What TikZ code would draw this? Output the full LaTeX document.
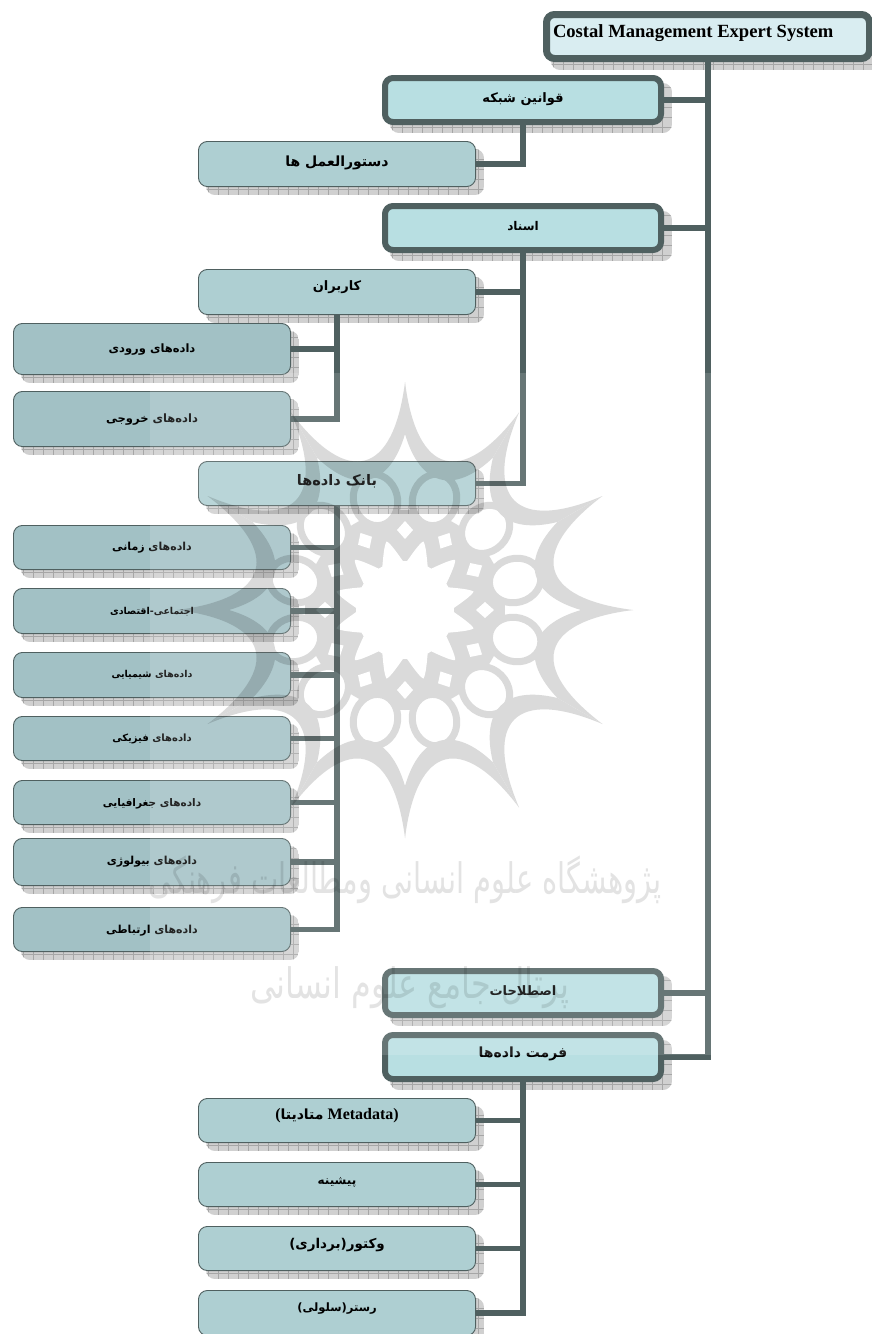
\documentclass[tikz,border=0pt]{standalone}
\usepackage{fontspec}
\setmainfont{Liberation Serif}
\newfontfamily\arabicfont[Script=Arabic]{DejaVu Sans}
\TeXXeTstate=1
\usetikzlibrary{calc}
\definecolor{lineC}{HTML}{4F6060}
\definecolor{rootC}{HTML}{D9EDF1}
\definecolor{oneC}{HTML}{B8DFE2}
\definecolor{twoC}{HTML}{AECFD2}
\definecolor{threeC}{HTML}{A2C1C5}
\definecolor{shC}{HTML}{D0D0D0}
\definecolor{gridC}{HTML}{A6A6A6}
\definecolor{wmC}{HTML}{DADADA}
\definecolor{wmT}{HTML}{E3E3E3}
\newcommand\fa[2]{{\fontsize{#1}{#1}\selectfont\arabicfont\bfseries #2}}
\tikzset{
  rootbox/.style={draw=lineC,line width=7pt,rounded corners=8pt,inner sep=0pt,outer sep=3.5pt,fill=rootC},
  onebox/.style={draw=lineC,line width=6pt,rounded corners=8pt,inner sep=0pt,outer sep=3pt,fill=oneC},
  twobox/.style={draw=lineC,line width=.9pt,rounded corners=9pt,inner sep=0pt,outer sep=.45pt,fill=twoC},
  threebox/.style={draw=lineC,line width=.9pt,rounded corners=9pt,inner sep=0pt,outer sep=.45pt,fill=threeC},
  conn/.style={draw=lineC,line width=5.5pt},
  bus/.style={draw=lineC,line width=6.5pt},
}
% name, style, stroke width, x1,y1,x2,y2 (outer bounds), raise, text
\newcommand\bx[9]{%
  \begin{scope}
    \clip[rounded corners=9pt] (#4+8,#5+8) rectangle (#6+8,#7+8);
    \fill[shC] (#4,#5) rectangle (#6+8,#7+8);
    \foreach \gx in {0,10,...,340}{\draw[gridC,line width=.45pt] (#4+\gx,#5) -- (#4+\gx,#7+8);}
    \foreach \gy in {0,10,...,60}{\draw[gridC,line width=.45pt] (#4,#7+2-\gy) -- (#6+8,#7+2-\gy);}
  \end{scope}
  \node[#2,minimum width=#6-#4-#3,minimum height=#7-#5-#3] (#1) at ({(#4+#6)/2},{(#5+#7)/2})
    {\smash{\raisebox{\dimexpr#8pt-3.5pt\relax}{#9}}};
}
\begin{document}
\begin{tikzpicture}[x=1pt,y=-1pt]
\useasboundingbox (0,0) rectangle (872,1334);
\clip (0,0) rectangle (872,1334);
\fill[white] (0,0) rectangle (872,1334);
% boxes
\bx{root}{rootbox}{7}{543}{11}{873}{62}{3}{\makebox[316pt][l]{\hspace*{3pt}\fontsize{18.6}{18.6}\selectfont\bfseries Costal Management Expert System}}
\bx{qavanin}{onebox}{6}{382}{75}{664}{125}{1}{\fa{13}{\beginR قوانین  شبکه\endR}}
\bx{dastur}{twobox}{.9}{198}{141}{476}{187}{1}{\fa{14}{\beginR دستورالعمل ها\endR}}
\bx{asnad}{onebox}{6}{382}{203}{664}{253}{1}{\fa{12}{\beginR اسناد\endR}}
\bx{karbar}{twobox}{.9}{198}{269}{476}{315}{5}{\fa{13}{\beginR کاربران\endR}}
\bx{vorudi}{threebox}{.9}{13}{323}{291}{375}{0}{\fa{11.5}{\beginR داده^^^^200cهای ورودی\endR}}
\bx{khoruji}{threebox}{.9}{13}{391}{291}{447}{0}{\fa{11.5}{\beginR داده^^^^200cهای خروجی\endR}}
\bx{bank}{twobox}{.9}{198}{461}{476}{506}{2}{\fa{14.5}{\beginR بانک داده^^^^200cها\endR}}
\bx{zamani}{threebox}{.9}{13}{525}{291}{570}{1}{\fa{11}{\beginR داده^^^^200cهای زمانی\endR}}
\bx{ejtema}{threebox}{.9}{13}{588}{291}{634}{0}{\fa{9.5}{\beginR اجتماعی-اقتصادی\endR}}
\bx{shimi}{threebox}{.9}{13}{652}{291}{698}{1}{\fa{9.5}{\beginR داده^^^^200cهای شیمیایی\endR}}
\bx{fiziki}{threebox}{.9}{13}{716}{291}{761}{1}{\fa{10}{\beginR داده^^^^200cهای فیزیکی\endR}}
\bx{joghrafi}{threebox}{.9}{13}{780}{291}{825}{0}{\fa{10.5}{\beginR داده^^^^200cهای جغرافیایی\endR}}
\bx{biolog}{threebox}{.9}{13}{838}{291}{886}{1}{\fa{11}{\beginR داده^^^^200cهای بیولوژی\endR}}
\bx{ertebat}{threebox}{.9}{13}{907}{291}{952}{0}{\fa{11}{\beginR داده^^^^200cهای ارتباطی\endR}}
\bx{estelah}{onebox}{6}{382}{968}{664}{1018}{1}{\fa{13}{\beginR اصطلاحات\endR}}
\bx{format}{onebox}{6}{382}{1032}{664}{1082}{3}{\fa{14}{\beginR فرمت داده^^^^200cها\endR}}
\bx{meta}{twobox}{.9}{198}{1098}{476}{1143}{5}{\fontsize{16}{16}\selectfont\bfseries (\fa{14}{\beginR متادیتا\endR} Metadata)}
\bx{pishine}{twobox}{.9}{198}{1162}{476}{1207}{4}{\fa{12}{\beginR پیشینه\endR}}
\bx{vektor}{twobox}{.9}{198}{1226}{476}{1271}{4}{\fa{13.5}{\beginR وکتور(برداری)\endR}}
\bx{raster}{twobox}{.9}{198}{1290}{476}{1336}{5}{\fa{11.5}{\beginR رستر(سلولی)\endR}}
% connectors
\draw[bus] (root.south) |- (format.east);
\draw[conn] (qavanin.east) -- (qavanin.east -| root.south);
\draw[conn] (asnad.east) -- (asnad.east -| root.south);
\draw[conn] (estelah.east) -- (estelah.east -| root.south);
\draw[conn] (qavanin.south) |- (dastur.east);
\draw[conn] (asnad.south) |- (bank.east);
\draw[conn] (karbar.east) -- (karbar.east -| asnad.south);
\draw[conn] (karbar.south) |- (khoruji.east);
\draw[conn] (vorudi.east) -- (vorudi.east -| karbar.south);
\draw[conn] (bank.south) |- (ertebat.east);
\foreach \c in {zamani,ejtema,shimi,fiziki,joghrafi,biolog}{\draw[conn] (\c.east) -- (\c.east -| bank.south);}
\draw[conn] (format.south) |- (raster.east);
\foreach \c in {meta,pishine,vektor}{\draw[conn] (\c.east) -- (\c.east -| format.south);}
% washed band of the watermark image
\fill[white,opacity=.14] (150,373) rectangle (735,1055);
% watermark
\begin{scope}[blend mode=multiply,transparency group]
  \begin{scope}[shift={(405,610)}]
    \fill[wmC] (0,0) circle (100);
    \foreach \a in {0,30,...,330}{
      \begin{scope}[rotate=\a]
        \fill[wmC] (0:228) .. controls (5:135) and (25:135) .. (30:228)
             -- (30:176) .. controls (23:125) and (7:125) .. (0:176) -- cycle;
        \fill[white] (71,0) -- (80,8) -- (89,0) -- (80,-8) -- cycle;
      \end{scope}
      \begin{scope}[rotate=\a+15]
        \draw[wmC,line width=7pt,fill=white] (114,0) ellipse[x radius=26,y radius=22];
      \end{scope}
    }
    \fill[white] (0,0) circle (49)
      \foreach \a in {0,30,...,330}{
        (\a:46) .. controls (\a+7:56) and (\a+12:68) .. (\a+15:71)
                .. controls (\a+18:68) and (\a+23:56) .. (\a+30:46) -- (0,0) -- cycle
      };
  \end{scope}
  \node[wmT,inner sep=0pt,xscale=.69] (wma) at (405,880) {\fontsize{42}{42}\selectfont\arabicfont\beginR پژوهشگاه علوم انسانی ومطالعات فرهنگی\endR};
  \node[wmT,inner sep=0pt,xscale=.76] (wmb) at (410,988) {\fontsize{42}{42}\selectfont\arabicfont\beginR پرتال جامع علوم انسانی\endR};
\end{scope}
\end{tikzpicture}
\end{document}
